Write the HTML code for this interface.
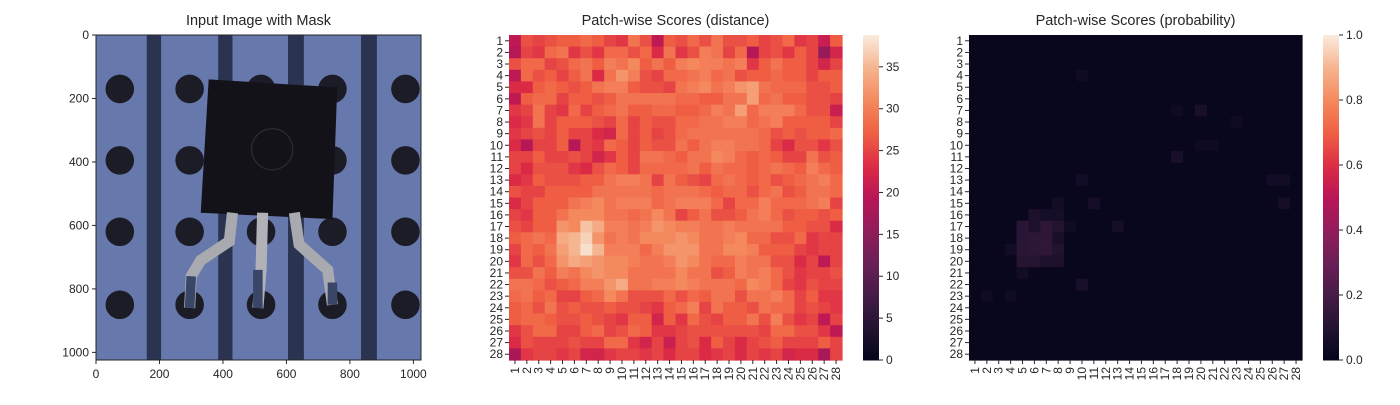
<!DOCTYPE html>
<html><head><meta charset="utf-8"><style>
body{margin:0;background:#fff;width:1400px;height:400px;overflow:hidden;font-family:"Liberation Sans",Arial,sans-serif}
svg text{font-family:"Liberation Sans",Arial,sans-serif;fill:#262626}
</style></head><body>
<svg id="fig" width="1400" height="400" xmlns="http://www.w3.org/2000/svg"></svg>
<script>
const distRows = [
[20,26,25,26,27,27,28,27,25,24,29,26,20,27,26,28,26,29,26,26,27,25,26,28,24,25,21,27],
[19,25,24,28,29,24,26,24,28,28,26,28,23,29,24,26,30,29,25,28,19,25,26,24,27,25,16,22],
[26,28,28,25,26,28,29,27,30,29,31,27,29,27,30,31,30,30,29,30,24,27,29,27,27,25,22,25],
[20,28,26,27,25,27,29,23,29,32,30,26,25,28,28,29,30,28,29,26,27,27,28,27,27,25,27,27],
[23,23,27,28,27,26,27,29,30,30,27,26,26,25,29,30,31,29,30,32,33,29,28,28,28,26,26,27],
[20,27,28,28,25,27,27,26,27,29,29,29,29,29,28,28,27,27,29,29,33,28,29,27,27,26,26,25],
[24,25,29,25,24,28,25,27,28,29,27,27,28,28,27,27,28,30,29,33,28,30,30,30,28,26,26,21],
[23,24,29,25,27,27,27,26,25,28,25,27,26,26,28,28,29,29,30,30,28,29,30,27,27,27,27,25],
[24,25,26,25,27,25,25,23,22,28,25,27,25,26,28,29,29,29,29,29,29,28,26,27,26,27,27,28],
[23,19,25,25,27,19,25,24,28,27,25,27,26,26,29,27,29,30,30,29,29,28,25,23,26,26,24,26],
[25,25,27,25,25,26,25,22,24,27,25,29,29,28,27,29,29,31,30,28,27,28,27,25,25,29,26,27],
[25,23,26,26,26,24,23,26,28,27,25,28,28,28,28,29,27,29,28,28,27,28,29,28,27,30,28,27],
[23,24,27,26,26,26,27,27,29,30,30,29,25,29,27,26,25,28,29,28,27,28,26,27,28,29,30,28],
[26,25,25,27,27,27,27,29,29,29,29,29,28,29,29,29,28,27,28,28,26,28,29,26,27,29,29,28],
[23,25,27,27,27,29,30,31,29,30,30,30,28,29,30,30,30,28,25,28,28,30,28,28,28,29,30,25],
[25,24,27,27,29,31,31,31,29,29,28,29,31,29,25,27,29,26,26,27,29,30,28,26,27,27,26,27],
[26,25,27,27,32,31,36,34,30,30,29,30,32,31,30,30,29,29,30,29,29,29,29,27,27,26,26,23],
[27,28,29,28,34,35,37,32,29,30,29,31,31,31,32,31,29,29,30,31,28,28,26,26,28,24,25,25],
[25,28,27,29,33,35,38,35,30,30,30,28,30,32,32,32,29,29,31,31,30,27,27,27,25,24,25,25],
[24,28,26,28,32,34,33,32,31,31,30,29,29,30,32,31,29,28,28,30,29,29,26,26,23,25,20,25],
[26,26,29,27,30,29,31,32,31,31,29,29,29,29,31,29,29,26,27,30,29,30,28,26,24,25,25,26],
[29,29,28,26,27,28,30,30,32,34,29,29,30,30,31,30,29,29,29,28,31,30,28,25,24,26,25,25],
[28,29,27,28,25,25,27,28,31,29,26,26,26,28,26,28,27,29,29,26,29,29,30,28,25,27,24,24],
[27,28,26,29,26,27,26,26,27,26,26,25,24,27,28,30,25,29,27,27,26,29,28,28,25,26,25,24],
[27,28,28,27,26,26,27,26,25,24,27,27,22,27,24,28,26,25,27,27,29,26,30,26,24,25,20,25],
[24,26,28,28,25,25,27,28,25,26,28,27,24,24,25,26,26,26,26,26,26,25,28,28,26,26,24,20],
[23,26,25,25,25,26,25,25,28,28,24,22,25,21,25,26,23,27,25,23,25,26,27,25,25,25,27,25],
[18,24,25,25,24,25,22,22,24,25,25,24,25,23,25,25,23,24,25,23,25,24,25,22,23,23,18,25]];
const probBase = 0.015;
const probHot = [[17,5,.12],[17,6,.08],[17,7,.13],[17,8,.1],[18,5,.12],[18,6,.13],[18,7,.14],[18,8,.07],[19,5,.12],[19,6,.13],[19,7,.14],[19,8,.1],[20,5,.11],[20,6,.11],[20,7,.08],[20,8,.08],[16,6,.08],[16,7,.06],[16,8,.06],[15,8,.05],[19,4,.05],[21,5,.05],[22,10,.07],[11,18,.07],[7,20,.07],[13,10,.05],[15,11,.06],[15,27,.06],[13,26,.05],[13,27,.05],[17,13,.06],[4,10,.04],[7,18,.04],[8,23,.04],[10,20,.04],[10,21,.04],[23,2,.04],[23,4,.04],[17,9,.04]];
const distTicks = [0,5,10,15,20,25,30,35];
const probTicks = [0,0.2,0.4,0.6,0.8,1.0];
const imgTicks = [0,200,400,600,800,1000];
const N = 28, distMax = 38.8;

const NS = "http://www.w3.org/2000/svg";
const fig = document.getElementById('fig');
function mk(tag, attrs, parent){const e=document.createElementNS(NS,tag);for(const k in attrs)e.setAttribute(k,attrs[k]);(parent||fig).appendChild(e);return e;}
const stops=[[0,[3,5,26]],[0.1,[34,19,49]],[0.2,[69,28,71]],[0.3,[106,31,86]],[0.4,[146,28,91]],[0.5,[185,22,87]],[0.6,[221,44,69]],[0.7,[240,96,67]],[0.8,[244,137,94]],[0.9,[246,180,143]],[1,[250,235,221]]];
function rocket(t){t=Math.max(0,Math.min(1,t));for(let i=1;i<stops.length;i++){if(t<=stops[i][0]){const a=stops[i-1],b=stops[i],f=(t-a[0])/(b[0]-a[0]);return 'rgb('+a[1].map((v,j)=>Math.round(v+(b[1][j]-v)*f)).join(',')+')';}}return 'rgb(250,235,221)';}

function title(x,txt,name){const t=mk('text',{x:x,y:25,'text-anchor':'middle','font-size':14.5});t.textContent=txt;}

// Panel 1: image
const X0=96,X1=421,Y0=35,Y1=360;
title((X0+X1)/2,'Input Image with Mask','image-title');
const img=mk('svg',{x:X0,y:Y0,width:X1-X0,height:Y1-Y0,viewBox:'0 0 1024 1024',preserveAspectRatio:'none'});

mk('rect',{x:0,y:0,width:1024,height:1024,fill:'#6678ac'},img);
[[160,205],[385,430],[605,655],[835,885]].forEach(s=>mk('rect',{x:s[0],y:0,width:s[1]-s[0],height:1024,fill:'#2a3450'},img));
[75,295,520,745,975].forEach(cx=>[170,395,620,850].forEach(cy=>mk('circle',{cx:cx,cy:cy,r:45,fill:'#1c1c26'},img)));
mk('polygon',{points:'355,140 760,165 745,580 330,560',fill:'#141219'},img);
mk('circle',{cx:555,cy:360,r:65,fill:'none',stroke:'#2c2a33','stroke-width':4},img);
mk('path',{d:'M430,560 L420,650 L330,710 L300,760 L295,860',stroke:'#a8aab0','stroke-width':35,fill:'none'},img);
mk('path',{d:'M525,560 L520,740 L510,860',stroke:'#b0b2b8','stroke-width':35,fill:'none'},img);
mk('path',{d:'M625,560 L640,660 L730,740 L745,850',stroke:'#a8aab0','stroke-width':35,fill:'none'},img);
mk('path',{d:'M300,760 L295,860 M510,740 L510,860 M745,780 L745,850',stroke:'#3a4668','stroke-width':30,fill:'none'},img);
mk('rect',{x:X0,y:Y0,width:X1-X0,height:Y1-Y0,fill:'none',stroke:'#262626','stroke-width':1});
const ipx=v=>X0+v*(X1-X0)/1024, ipy=v=>Y0+v*(Y1-Y0)/1024;
imgTicks.forEach(v=>{
 mk('line',{x1:ipx(v),x2:ipx(v),y1:Y1,y2:Y1+4,stroke:'#262626'});
 const t=mk('text',{x:ipx(v),y:Y1+18,'text-anchor':'middle','font-size':12});t.textContent=v;
 
 mk('line',{x1:X0-4,x2:X0,y1:ipy(v),y2:ipy(v),stroke:'#262626'});
 const u=mk('text',{x:X0-7,y:ipy(v)+4,'text-anchor':'end','font-size':12});u.textContent=v;
 
});

function heatmap(hx0,hx1,valFn,vmax,cbx,ticks,fmt,ttl,name){
 const hy0=35,hy1=360,cw=(hx1-hx0)/N,ch=(hy1-hy0)/N;
 title((hx0+hx1)/2,ttl,name+'-title');
 const g=mk('g',{});
 for(let r=0;r<N;r++)for(let c=0;c<N;c++){
  const cell=mk('rect',{x:hx0+c*cw,y:hy0+r*ch,width:cw+0.6,height:ch+0.6,fill:rocket(valFn(r,c)/vmax)},g);
  
  
 }
 for(let i=0;i<N;i++){
  const yc=hy0+(i+0.5)*ch, xc=hx0+(i+0.5)*cw;
  mk('line',{x1:hx0-4,x2:hx0,y1:yc,y2:yc,stroke:'#262626'});
  const t=mk('text',{x:hx0-6,y:yc+4,'text-anchor':'end','font-size':12});t.textContent=i+1;
  
  mk('line',{x1:xc,x2:xc,y1:hy1,y2:hy1+4,stroke:'#262626'});
  const u=mk('text',{x:0,y:0,'text-anchor':'end','font-size':12,transform:`translate(${xc+4},${hy1+7}) rotate(-90)`});u.textContent=i+1;
  
 }
 const cb=mk('g',{});
 const H=hy1-hy0;
 for(let k=0;k<H;k++)mk('rect',{x:cbx,y:hy1-k-1,width:16,height:1.5,fill:rocket((k+0.5)/H)},cb);
 ticks.forEach(v=>{const y=hy1-v/vmax*H;
  mk('line',{x1:cbx+16,x2:cbx+20,y1:y,y2:y,stroke:'#262626'},cb);
  const t=mk('text',{x:cbx+23,y:y+4,'font-size':12},cb);t.textContent=fmt(v);
  });
}
heatmap(509,842,(r,c)=>distRows[r][c],distMax,863,distTicks,v=>String(v),'Patch-wise Scores (distance)','distance');
const probGrid=[];for(let r=0;r<N;r++){probGrid.push(new Array(N).fill(probBase));}
probHot.forEach(h=>{probGrid[h[0]-1][h[1]-1]=h[2];});
heatmap(969,1302,(r,c)=>probGrid[r][c],1,1323,probTicks,v=>v.toFixed(1),'Patch-wise Scores (probability)','probability');
</script>
</body></html>
